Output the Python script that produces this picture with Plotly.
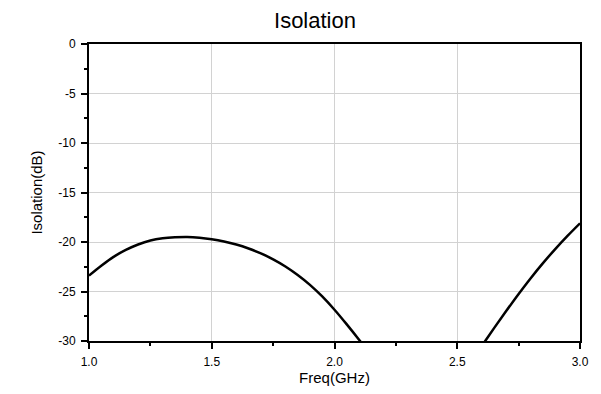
import plotly.graph_objects as go

# Data
freq_low = [1.0, 1.05, 1.1, 1.15, 1.2, 1.25, 1.3, 1.35, 1.4, 1.45, 1.5, 1.55, 1.6,
            1.65, 1.7, 1.75, 1.8, 1.85, 1.9, 1.95, 2.0, 2.05, 2.1, 2.15]
iso_low = [-23.4, -22.4, -21.5, -20.8, -20.25, -19.85, -19.63, -19.53, -19.5, -19.57,
           -19.72, -19.95, -20.26, -20.66, -21.15, -21.75, -22.47, -23.33, -24.33, -25.5,
           -26.84, -28.32, -29.87, -31.47]
freq_high = [2.55, 2.6, 2.65, 2.7, 2.75, 2.8, 2.85, 2.9, 2.95, 3.0]
iso_high = [-32.3, -30.5, -28.7, -26.95, -25.25, -23.63, -22.11, -20.69, -19.36, -18.11]

x_tickvals = [1.0, 1.5, 2.0, 2.5, 3.0]
x_ticktext = ["1.0", "1.5", "2.0", "2.5", "3.0"]
y_tickvals = [0, -5, -10, -15, -20, -25, -30]
y_ticktext = ["0", "-5", "-10", "-15", "-20", "-25", "-30"]

fig = go.Figure()
for xs, ys in [(freq_low, iso_low), (freq_high, iso_high)]:
    fig.add_trace(go.Scatter(x=xs, y=ys, mode="lines",
                             line=dict(color="black", width=2.5, shape="spline", smoothing=1),
                             showlegend=False, hoverinfo="skip"))

font_family = "Liberation Sans, Arial, sans-serif"
axis_common = dict(
    showline=True, linecolor="black", linewidth=2, mirror=True,
    showgrid=True, gridcolor="#d2d2d2", gridwidth=1,
    ticks="outside", ticklen=6, tickwidth=1.5, tickcolor="black",
    zeroline=False,
    tickfont=dict(family=font_family, size=12, color="black"),
    ticklabelstandoff=3,
)

fig.update_xaxes(range=[1.0, 3.0], tickvals=x_tickvals, ticktext=x_ticktext,
                 minor=dict(ticks="outside", ticklen=3, tickwidth=1.5, tickcolor="black",
                            dtick=0.25, showgrid=False),
                 title=dict(text="Freq(GHz)", font=dict(family=font_family, size=15, color="black"),
                            standoff=2),
                 **axis_common)
fig.update_yaxes(range=[-30, 0], tickvals=y_tickvals, ticktext=y_ticktext,
                 minor=dict(ticks="outside", ticklen=3, tickwidth=1.5, tickcolor="black",
                            dtick=2.5, showgrid=False),
                 title=dict(text="Isolation(dB)", font=dict(family=font_family, size=15, color="black"),
                            standoff=12),
                 **axis_common)

fig.update_layout(
    width=601, height=394,
    margin=dict(l=89, r=21, t=44, b=47),
    paper_bgcolor="white", plot_bgcolor="white",
    title=dict(text="Isolation", x=315 / 601, xanchor="center", xref="container",
               y=1 - 20 / 394, yanchor="middle", yref="container",
               font=dict(family=font_family, size=22, color="black")),
)

fig.write_html("out.html")
